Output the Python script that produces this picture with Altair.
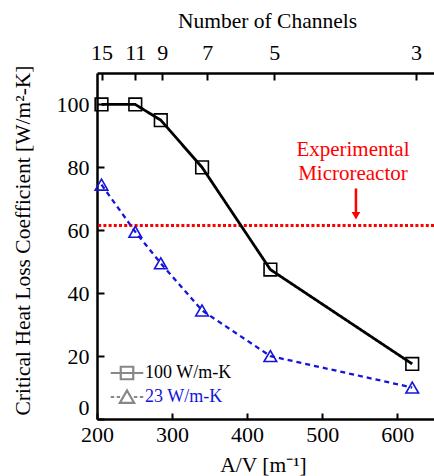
import altair as alt
import pandas as pd

# ---- data ----
av = [206, 251, 285, 340, 431, 620]
k100 = [100, 100, 95, 80, 47.5, 17.5]
k23 = [74.5, 59.5, 49.5, 34.5, 20, 10]
series_names = ["100 W/m-K", "23 W/m-K"]
channel_av = [206, 251, 287, 347, 436, 625]
channel_n = ["15", "11", "9", "7", "5", "3"]
x_ticks = [200, 300, 400, 500, 600]
y_ticks = [0, 20, 40, 60, 80, 100]
exp_level = [61.5]
note_lines = ["Experimental", "Microreactor"]
note_x = [541]
note_y = [83.5]
arrow_x = [545]
arrow_top = [73.3]
arrow_bottom = [65.5]
arrow_tip = [64.6]

W, H = 337, 346
FONT = "Liberation Serif"
BLUE = "#1414dc"
TICK_FS = 22
TITLE_FS = 21.5

rows = []
for i, a in enumerate(av):
    rows.append({"av": a, "k": k100[i], "series": series_names[0]})
for i, a in enumerate(av):
    rows.append({"av": a, "k": k23[i], "series": series_names[1]})
df = pd.DataFrame(rows)

xs = alt.Scale(domain=[200, 649], nice=False, zero=False)
ys = alt.Scale(domain=[0, 110], nice=False, zero=False)
color = alt.Color("series:N", scale=alt.Scale(domain=series_names, range=["black", BLUE]), legend=None)

label_expr = " : ".join(f"datum.value == {a} ? '{n}'" for a, n in zip(channel_av, channel_n)) + " : ''"

ax_bottom = alt.Axis(orient="bottom", values=x_ticks, ticks=False, grid=False, domain=True,
                     domainColor="black", domainWidth=2.5, labelFont=FONT, labelFontSize=TICK_FS,
                     labelColor="black", labelPadding=5, labelFlush=False, labelOverlap=False,
                     title="A/V [m⁻¹]", titleFont=FONT,
                     titleFontSize=TITLE_FS, titleFontWeight="normal", titleColor="black",
                     titleX=166, titleY=52, titleBaseline="alphabetic", titleAlign="center")
ax_bottom_ticks = alt.Axis(orient="top", offset=-H, values=x_ticks, ticks=True, tickSize=6,
                           tickWidth=2, tickColor="black", labels=False, domain=False, grid=False,
                           title=None)
ax_left = alt.Axis(orient="left", values=y_ticks, ticks=False, grid=False, domain=True,
                   domainColor="black", domainWidth=2.5, labelFont=FONT, labelFontSize=TICK_FS,
                   labelColor="black", labelPadding=8, labelFlush=True, labelOverlap=False,
                   title="Critical Heat Loss Coefficient [W/m²-K]", titleFont=FONT,
                   titleFontSize=TITLE_FS, titleFontWeight="normal", titleColor="black",
                   titleX=-68, titleY=167, titleAngle=270, titleBaseline="alphabetic",
                   titleAlign="center")
ax_left_ticks = alt.Axis(orient="right", offset=-W, values=y_ticks, ticks=True, tickSize=7,
                         tickWidth=2, tickColor="black", labels=False, domain=False, grid=False,
                         title=None)
ax_top = alt.Axis(orient="top", values=channel_av, labelExpr=label_expr, ticks=False, grid=False,
                  domain=True, domainColor="black", domainWidth=2.5, labelFont=FONT,
                  labelFontSize=TICK_FS, labelColor="black", labelPadding=9, labelFlush=False,
                  labelOverlap=False,
                  title="Number of Channels", titleFont=FONT, titleFontSize=TITLE_FS,
                  titleFontWeight="normal", titleColor="black", titleX=170, titleY=-46,
                  titleBaseline="alphabetic", titleAlign="center")
ax_top_ticks = alt.Axis(orient="bottom", offset=-H, values=channel_av, ticks=True, tickSize=7,
                        tickWidth=2, tickColor="black", labels=False, domain=False, grid=False,
                        title=None)

base = alt.Chart(df)

red_rule = alt.Chart(pd.DataFrame({"level": exp_level})).mark_rule(
    color="#ff0000", strokeWidth=3, strokeDash=[3, 2.2]
).encode(y=alt.Y("level:Q", scale=ys, axis=None))

lines = base.mark_line().encode(
    x=alt.X("av:Q", scale=xs, axis=ax_bottom),
    y=alt.Y("k:Q", scale=ys, axis=ax_left),
    color=color,
    strokeDash=alt.StrokeDash("series:N", scale=alt.Scale(domain=series_names, range=[[1, 0], [5, 4]]), legend=None),
    strokeWidth=alt.StrokeWidth("series:N", scale=alt.Scale(domain=series_names, range=[2.8, 2.3]), legend=None),
)

points = base.mark_point(filled=False, strokeWidth=1.6, size=160, opacity=1).encode(
    x=alt.X("av:Q", scale=xs, axis=ax_bottom_ticks),
    y=alt.Y("k:Q", scale=ys, axis=ax_left_ticks),
    color=alt.Color("series:N", scale=alt.Scale(domain=series_names, range=["#333333", BLUE]), legend=None),
    shape=alt.Shape("series:N", scale=alt.Scale(domain=series_names, range=["square", "triangle-up"]), legend=None),
)

note = alt.Chart(pd.DataFrame({"x": note_x, "y": note_y, "t": [note_lines]})).mark_text(
    font=FONT, fontSize=21, color="#ff0000", align="center", baseline="alphabetic", lineHeight=24
).encode(
    x=alt.X("x:Q", scale=xs, axis=ax_top),
    y=alt.Y("y:Q", scale=ys, axis=None),
    text="t",
)

arrow = alt.Chart(pd.DataFrame({"x": arrow_x, "y1": arrow_top, "y2": arrow_bottom})).mark_rule(
    color="#ff0000", strokeWidth=2.5
).encode(
    x=alt.X("x:Q", scale=xs, axis=ax_top_ticks),
    y=alt.Y("y1:Q", scale=ys, axis=None),
    y2="y2:Q",
)

arrow_head = alt.Chart(pd.DataFrame({"x": arrow_x, "y": arrow_tip})).mark_point(
    shape="triangle-down", filled=True, color="#ff0000", size=75, opacity=1
).encode(
    x=alt.X("x:Q", scale=xs, axis=None),
    y=alt.Y("y:Q", scale=ys, axis=None),
)

sq_path = "M-2.6,0H2.6M-1,-1H1V1H-1Z"
tri_path = "M-2.6,0H-2.05M-1.65,0H-1.1M1.1,0H1.65M2.05,0H2.6M0,-1.05L1.15,0.95H-1.15Z"
leg = alt.Legend(orient="none", legendX=21, legendY=291, title=None, labelFont=FONT,
                 labelFontSize=18, labelOffset=9, symbolSize=156, symbolStrokeWidth=2.2,
                 symbolOpacity=1, rowPadding=2, padding=0, symbolFillColor="transparent",
                 labelColor=alt.ExprRef(f"datum.label == '{series_names[1]}' ? '{BLUE}' : 'black'"))
legend_layer = alt.Chart(pd.DataFrame({"series": series_names})).mark_point(filled=False, opacity=1).encode(
    x=alt.value(-2000),
    y=alt.value(-2000),
    color=alt.Color("series:N", scale=alt.Scale(domain=series_names, range=["black", BLUE]), legend=leg),
    shape=alt.Shape("series:N", scale=alt.Scale(domain=series_names, range=[sq_path, tri_path]), legend=leg),
)

chart = alt.layer(red_rule, lines, points, note, arrow, arrow_head, legend_layer).resolve_axis(
    x="independent", y="independent"
).resolve_scale(shape="independent").properties(
    width=W, height=H, autosize="none",
    padding={"left": 97, "top": 73, "right": 0, "bottom": 57},
    background="white",
).configure_view(stroke=None)

chart.save("out.html", embed_options={"renderer": "svg", "actions": False})
